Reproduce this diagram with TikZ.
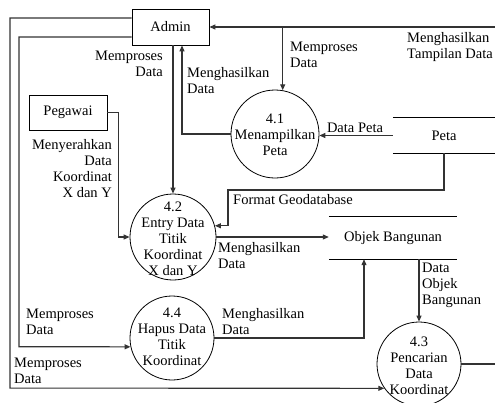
\documentclass[tikz,border=0pt]{standalone}
\usepackage{fontspec}
\setmainfont{Liberation Serif}
\usetikzlibrary{arrows.meta}
\begin{document}
\begin{tikzpicture}[x=1pt,y=-1pt,
 line/.style={draw=black!80,line width=1.1pt},
 arr/.style={line,-{Triangle[length=6pt,width=5pt]}},
 proc/.style={circle,draw,line width=0.8pt,minimum size=#1,inner sep=0},
 ent/.style={draw,line width=0.8pt,inner sep=0,font=\fontsize{14.5}{16}\selectfont},
 store/.style={inner sep=0,font=\fontsize{14.5}{16}\selectfont},
 txt/.style={font=\fontsize{14.5}{16}\selectfont,inner sep=0,align=center},
 lbl/.style={font=\fontsize{14.5}{16}\selectfont,inner sep=0},
]
\fill[white] (0,0) rectangle (495,402);
\useasboundingbox (0,0) rectangle (495,402);

% entities
\node[ent,minimum width=77pt,minimum height=36pt] (admin) at (170.5,27) {Admin};
\node[ent,minimum width=78pt,minimum height=35pt] (peg) at (68,112.5) {Pegawai};

% processes
\node[proc=88pt] (p41) at (275,134) {};
\node[txt] (t41) at (275,135) {4.1\\Menampilkan\\Peta};
\node[proc=86pt] (p42) at (173,237) {};
\node[txt] (t42) at (173,238.5) {4.2\\Entry Data\\Titik\\Koordinat\\X dan Y};
\node[proc=84pt] (p43) at (419,364) {};
\node[txt] (t43) at (419,366) {4.3\\Pencarian\\Data\\Koordinat};
\node[proc=84pt] (p44) at (172,338) {};
\node[txt] (t44) at (172,337) {4.4\\Hapus Data\\Titik\\Koordinat};

% data stores
\node[store,minimum width=102pt,minimum height=35pt] (peta) at (444,135.5) {Peta};
\draw[line width=0.8pt] (peta.north west) -- (peta.north east);
\draw[line width=0.8pt] (peta.south west) -- (peta.south east);
\node[store,minimum width=128pt,minimum height=42pt] (objek) at (393,238) {Objek Bangunan};
\draw[line width=0.8pt] (objek.north west) -- (objek.north east);
\draw[line width=0.8pt] (objek.south west) -- (objek.south east);

% connectors
\coordinate (rt) at (495,27);
\draw[arr] (rt) -- (admin.east);
\draw[arr] (p41.80 |- rt) -- (p41.80);
\draw[arr] (p42.north |- admin.south) -- (p42.north);
\draw[arr] (p41.west) -| ([xshift=11.5pt]admin.south);
\draw[arr] (peta.west) -- (peta.west -| p41.east);
\coordinate (fg) at (228,190);
\draw[arr] (peta.south) |- (fg) |- (p42.15);
\draw[arr] (peg.east) -- ++(11,0) |- (p42.west);
\draw[arr] (p42.east) -- (p42.east -| objek.west);
\draw[arr] (p44.east) -| ([xshift=-29pt]objek.south);
\draw[arr] (objek.south -| p43.north) -- (p43.north);
\coordinate (r43) at (495,364);
\draw[line] (p43.east) -- (r43);
\coordinate (c1) at (10,388.1);
\draw[arr] ([yshift=9pt]admin.west) -| (c1) -- (p43.215);
\coordinate (c2) at (19,346.7);
\draw[arr] ([yshift=-10pt]admin.west) -| (c2) -- (p44.192);

% labels
\node[lbl,align=right,anchor=east] (l1) at (163,64) {Memproses\\Data};
\node[lbl,align=left,anchor=west] (l2) at (187,81) {Menghasilkan\\Data};
\node[lbl,align=left,anchor=west] (l3) at (290,55) {Memproses\\Data};
\node[lbl,align=left,anchor=west] (l4) at (407,47) {Menghasilkan\\Tampilan Data};
\node[lbl] (l5) at (355,128) {Data Peta};
\node[lbl,align=right,anchor=east] (l6) at (112,168.5) {Menyerahkan\\Data\\Koordinat\\X dan Y};
\node[lbl,anchor=west] (l7) at (233,200) {Format Geodatabase};
\node[lbl,align=left,anchor=west] (l8) at (218,256) {Menghasilkan\\Data};
\node[lbl,align=left,anchor=west] (l9) at (222,322) {Menghasilkan\\Data};
\node[lbl,align=left,anchor=west] (l10) at (422,285) {Data\\Objek\\Bangunan};
\node[lbl,align=left,anchor=west] (l11) at (26,322) {Memproses\\Data};
\node[lbl,align=left,anchor=west] (l12) at (14,371) {Memproses\\Data};
\end{tikzpicture}
\end{document}
